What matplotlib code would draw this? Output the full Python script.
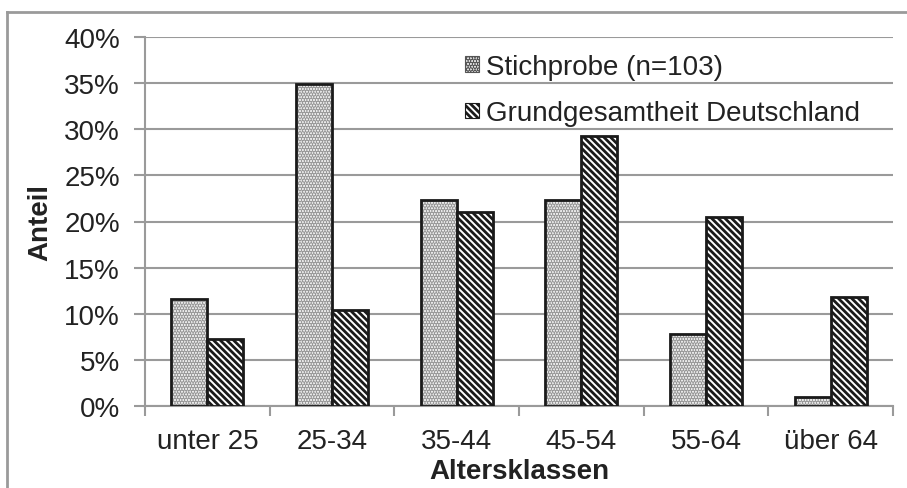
import numpy as np
import matplotlib.pyplot as plt
from matplotlib.patches import Patch

plt.rcParams['font.family'] = ['Liberation Sans', 'DejaVu Sans']
plt.rcParams['hatch.linewidth'] = 2.0

KATEGORIEN = ["unter 25", "25-34", "35-44", "45-54", "55-64", "über 64"]
STICHPROBE = [11.65, 34.95, 22.33, 22.33, 7.77, 0.97]
GRUNDGESAMTHEIT = [7.3, 10.4, 21.0, 29.3, 20.5, 11.8]
Y_TICKS = [0, 5, 10, 15, 20, 25, 30, 35, 40]

GRAU = '#9a9a9a'
TEXT = '#222222'
BREITE = 0.29
SCHRIFT = 20

fig = plt.figure(figsize=(9.07, 4.89), dpi=100)
ax = fig.add_axes([145 / 907, 1 - 407 / 489, 748 / 907, 369 / 489])

x = np.arange(len(KATEGORIEN))

# Stichprobe: heller Punktraster, schwarzer Rand darueber
ax.bar(x - BREITE / 2, STICHPROBE, BREITE, facecolor='#f7f7f7',
       edgecolor='#999999', hatch='......', linewidth=0, zorder=2)
ax.bar(x - BREITE / 2, STICHPROBE, BREITE, fill=False,
       edgecolor='#1a1a1a', linewidth=2.0, zorder=3)

# Grundgesamtheit: schwarze Diagonalschraffur
ax.bar(x + BREITE / 2, GRUNDGESAMTHEIT, BREITE, facecolor='white',
       edgecolor='#1a1a1a', hatch='\\\\\\\\\\', linewidth=2.0, zorder=3)

ax.set_xlim(-0.5, len(KATEGORIEN) - 0.5)
ax.set_ylim(0, 40)
ax.set_yticks(Y_TICKS)
ax.set_yticklabels([f"{t}%" for t in Y_TICKS])
ax.set_xticks(x)
ax.set_xticklabels(KATEGORIEN)
ax.set_xticks(np.arange(-0.5, len(KATEGORIEN)), minor=True)

ax.tick_params(axis='y', which='major', length=8, width=1.5, color=GRAU,
               labelsize=SCHRIFT, pad=10, labelcolor=TEXT)
ax.tick_params(axis='x', which='major', length=0, labelsize=SCHRIFT, pad=16,
               labelcolor=TEXT)
ax.tick_params(axis='x', which='minor', length=7, width=1.5, color=GRAU)

ax.grid(True, axis='y', color=GRAU, linewidth=1.5, zorder=0)
ax.set_axisbelow(True)
for s in ['top', 'right']:
    ax.spines[s].set_visible(False)
for s in ['left', 'bottom']:
    ax.spines[s].set_color(GRAU)
    ax.spines[s].set_linewidth(1.5)

ax.set_xlabel("Altersklassen", fontsize=SCHRIFT, fontweight='bold', color=TEXT, labelpad=3)
ax.set_ylabel("Anteil", fontsize=SCHRIFT, fontweight='bold', color=TEXT, labelpad=8)

handles = [
    Patch(facecolor='#f4f4f4', edgecolor='#555555', hatch='......', linewidth=0.8,
          label="Stichprobe (n=103)"),
    Patch(facecolor='white', edgecolor='#1a1a1a', hatch='\\\\\\\\\\', linewidth=0.8,
          label="Grundgesamtheit Deutschland"),
]
ax.legend(handles=handles, loc='upper left', bbox_to_anchor=(0.428, 0.955),
          frameon=False, fontsize=SCHRIFT, handlelength=0.5, handleheight=0.5,
          handletextpad=0.25, labelspacing=0.75, borderpad=0, borderaxespad=0,
          labelcolor=TEXT)

# aeusserer Rahmen (nur oben und links sichtbar)
fig.add_artist(plt.Line2D([7 / 907, 1], [1 - 13 / 489, 1 - 13 / 489],
                          color=GRAU, linewidth=2, transform=fig.transFigure))
fig.add_artist(plt.Line2D([7 / 907, 7 / 907], [0, 1 - 13 / 489],
                          color=GRAU, linewidth=2, transform=fig.transFigure))

fig.savefig("out.png", dpi=100, facecolor='white')
